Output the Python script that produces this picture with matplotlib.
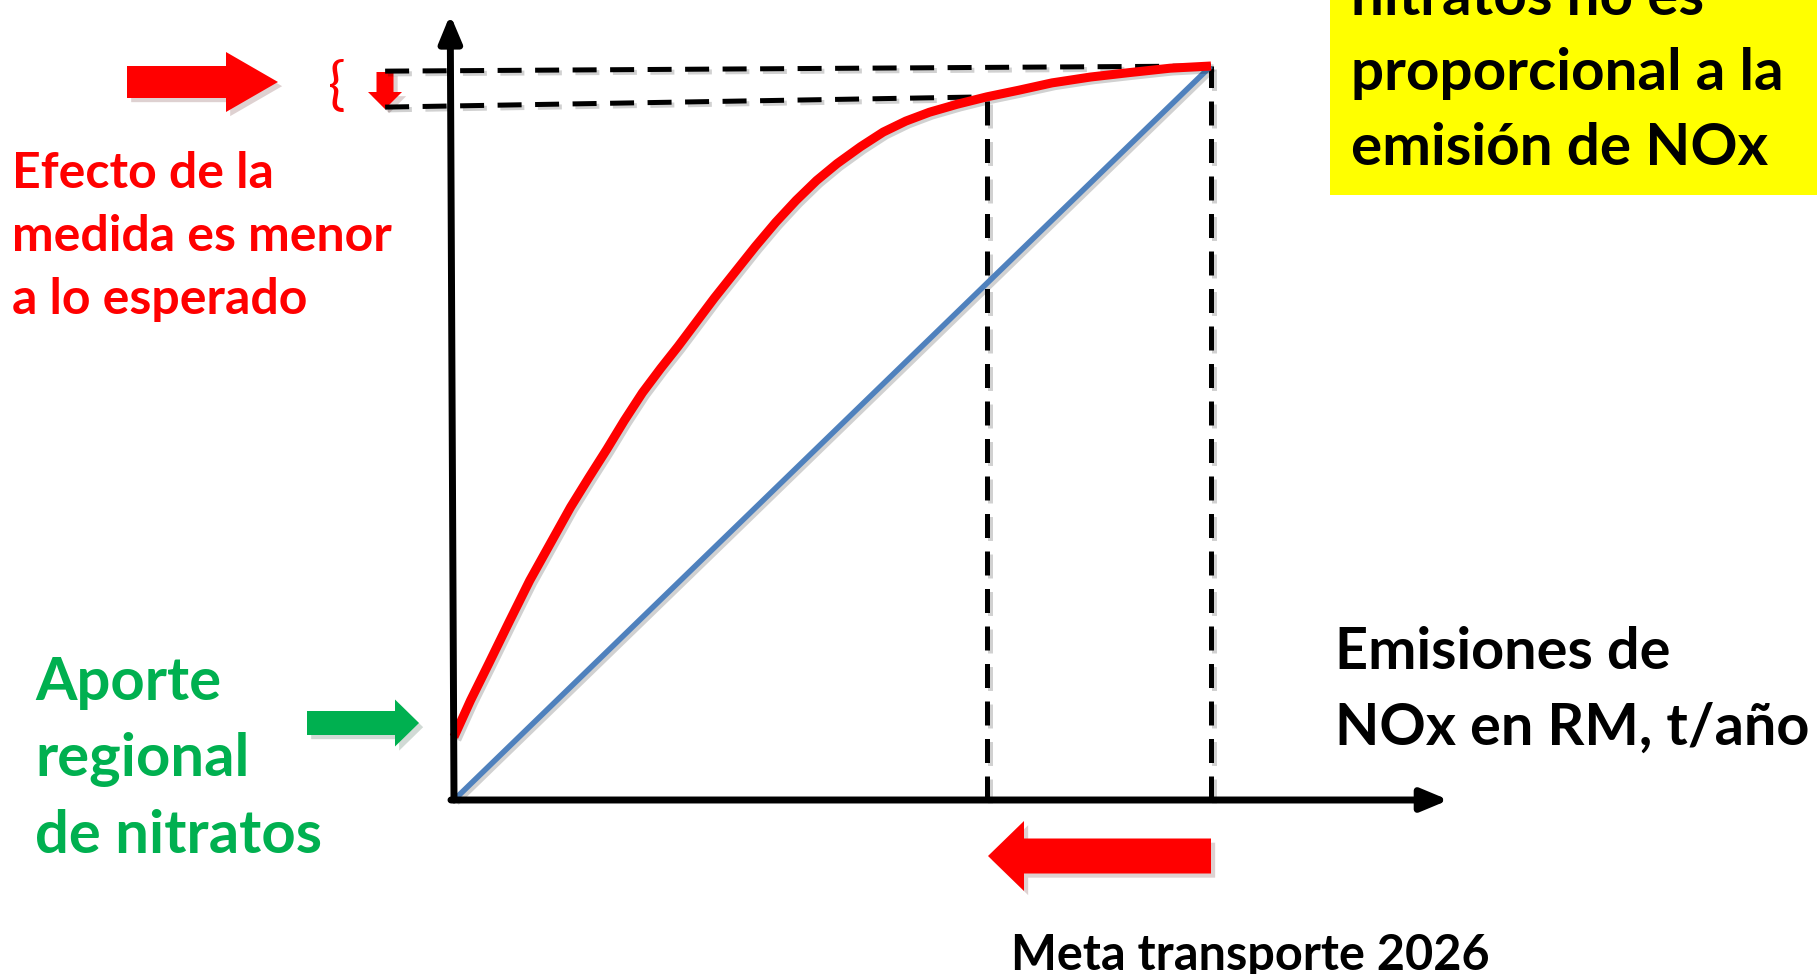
import matplotlib
matplotlib.use("Agg")
import matplotlib.pyplot as plt
from matplotlib import patches
from matplotlib import patheffects as pe

# Emisiones de NOx en unidades relativas (100 = situacion actual)
emision = [0, 2.2, 4.6, 7.3, 10.0, 12.7, 15.4, 17.8, 20.2, 22.5, 24.9, 27.3,
           29.6, 32.0, 34.4, 37.1, 39.8, 42.5, 45.2, 47.9, 50.6, 53.7, 56.7,
           59.7, 62.8, 66.5, 70.4, 74.6, 79.0, 84.1, 89.2, 94.6, 100]
# Concentracion de nitratos observada (no lineal, con aporte regional)
nitrato_real = [8.6, 13.6, 18.6, 24.3, 29.9, 34.9, 39.9, 43.9, 47.8, 51.7,
                55.5, 58.8, 61.8, 65.1, 68.4, 71.9, 75.4, 78.7, 81.7, 84.4,
                86.7, 89.0, 91.0, 92.5, 93.7, 94.8, 95.8, 96.7, 97.7, 98.5,
                99.1, 99.7, 100]
# Respuesta proporcional esperada
emision_lineal = [0, 100]
nitrato_lineal = [0, 100]

meta_emision = 70.4
emision_actual = 100
nitrato_meta = 95.8
nitrato_actual = 100
# extremo izquierdo de las guias horizontales (dibujadas a mano, algo inclinadas)
guia_x_izq = -9.1
guia_sup_izq = 99.3
guia_inf_izq = 94.4

texto_efecto = ["Efecto de la", "medida es menor", "a lo esperado"]
texto_aporte = ["Aporte", "regional", "de nitratos"]
texto_eje_x = ["Emisiones de", "NOx en RM, t/año"]
texto_caja = ["nitratos no es", "proporcional a la", "emisión de NOx"]
texto_meta = "Meta transporte 2026"

RED = "#FF0000"
GREEN = "#00B050"
BLUE = "#4F81BD"
FONT = "Lato"

W, H = 1817, 974
fig = plt.figure(figsize=(W / 100, H / 100), dpi=100)
fig.patch.set_facecolor("white")

# overlay in pixel coordinates for the annotations
ov = fig.add_axes([0, 0, 1, 1], zorder=0)
ov.set_xlim(0, W)
ov.set_ylim(H, 0)
ov.axis("off")

# plot area: origin at (454, 800) px, (100, 100) at (1211, 66) px
x0, y0, x1, y1 = 454, 800, 1211, 66
ax = fig.add_axes([x0 / W, 1 - y0 / H, (x1 - x0) / W, (y0 - y1) / H], zorder=1)
ax.set_xlim(0, 100)
ax.set_ylim(0, 100)
ax.axis("off")

shadow_line = [pe.SimpleLineShadow(offset=(2, -2), alpha=0.18), pe.Normal()]
shadow_patch = [pe.SimplePatchShadow(offset=(3, -3), alpha=0.18), pe.Normal()]

dash_kw = dict(color="black", lw=3.6, dashes=(4.8, 2.7), clip_on=False,
               path_effects=shadow_line)
ax.plot([guia_x_izq, emision_actual], [guia_sup_izq, nitrato_actual], **dash_kw)
ax.plot([guia_x_izq, meta_emision], [guia_inf_izq, nitrato_meta], **dash_kw)
ax.plot([meta_emision, meta_emision], [0, nitrato_meta], **dash_kw)
ax.plot([emision_actual, emision_actual], [0, nitrato_actual], **dash_kw)

ax.plot(emision_lineal, nitrato_lineal, color=BLUE, lw=4.0, clip_on=False,
        solid_capstyle="butt", path_effects=shadow_line)
ax.plot(emision, nitrato_real, color=RED, lw=6.5, clip_on=False,
        solid_joinstyle="round", solid_capstyle="butt", zorder=3,
        path_effects=shadow_line)

arrow_kw = dict(arrowstyle="-|>,head_length=0.36,head_width=0.15", lw=5.0,
                color="black", mutation_scale=45, shrinkA=0, shrinkB=0)
ax.annotate("", xy=(-0.5, 107), xytext=(0, 0), arrowprops=arrow_kw,
            annotation_clip=False, zorder=4)
ax.annotate("", xy=(131.4, 0), xytext=(-0.4, 0), arrowprops=arrow_kw,
            annotation_clip=False, zorder=4)

# block arrows
ov.add_patch(patches.FancyArrow(127, 82, 151, 0, width=32, head_width=60,
                                head_length=52, length_includes_head=True,
                                color=RED, lw=0, path_effects=shadow_patch))
ov.add_patch(patches.FancyArrow(385, 72, 0, 37, width=17, head_width=34,
                                head_length=17, length_includes_head=True,
                                color=RED, lw=0, path_effects=shadow_patch))
ov.add_patch(patches.FancyArrow(307, 723, 112, 0, width=24, head_width=47,
                                head_length=24, length_includes_head=True,
                                color=GREEN, lw=0, path_effects=shadow_patch))
ov.add_patch(patches.FancyArrow(1211, 856, -223, 0, width=35, head_width=70,
                                head_length=36, length_includes_head=True,
                                color=RED, lw=0, path_effects=shadow_patch))

ov.text(337, 88, "{", color=RED, fontsize=42, ha="center", va="center",
        family=FONT)

# yellow note box
ov.add_patch(patches.Rectangle((1330, 0), W - 1330, 195, color="#FFFF00", lw=0))

txt_kw = dict(family=FONT, fontweight="bold", va="baseline", ha="left")
for line, yb in zip(texto_efecto, [188, 251, 314]):
    ov.text(12, yb, line, color=RED, fontsize=36, **txt_kw)
for line, yb in zip(texto_aporte, [700, 776, 853]):
    ov.text(35, yb, line, color=GREEN, fontsize=43, **txt_kw)
for line, yb in zip(texto_eje_x, [669, 745]):
    ov.text(1335, yb, line, color="black", fontsize=41.5, **txt_kw)
for line, yb in zip(texto_caja, [15, 90, 165]):
    ov.text(1351, yb, line, color="black", fontsize=42, **txt_kw)
ov.text(1011, 970, texto_meta, color="black", fontsize=35, **txt_kw)

fig.savefig("out.png", dpi=100)
